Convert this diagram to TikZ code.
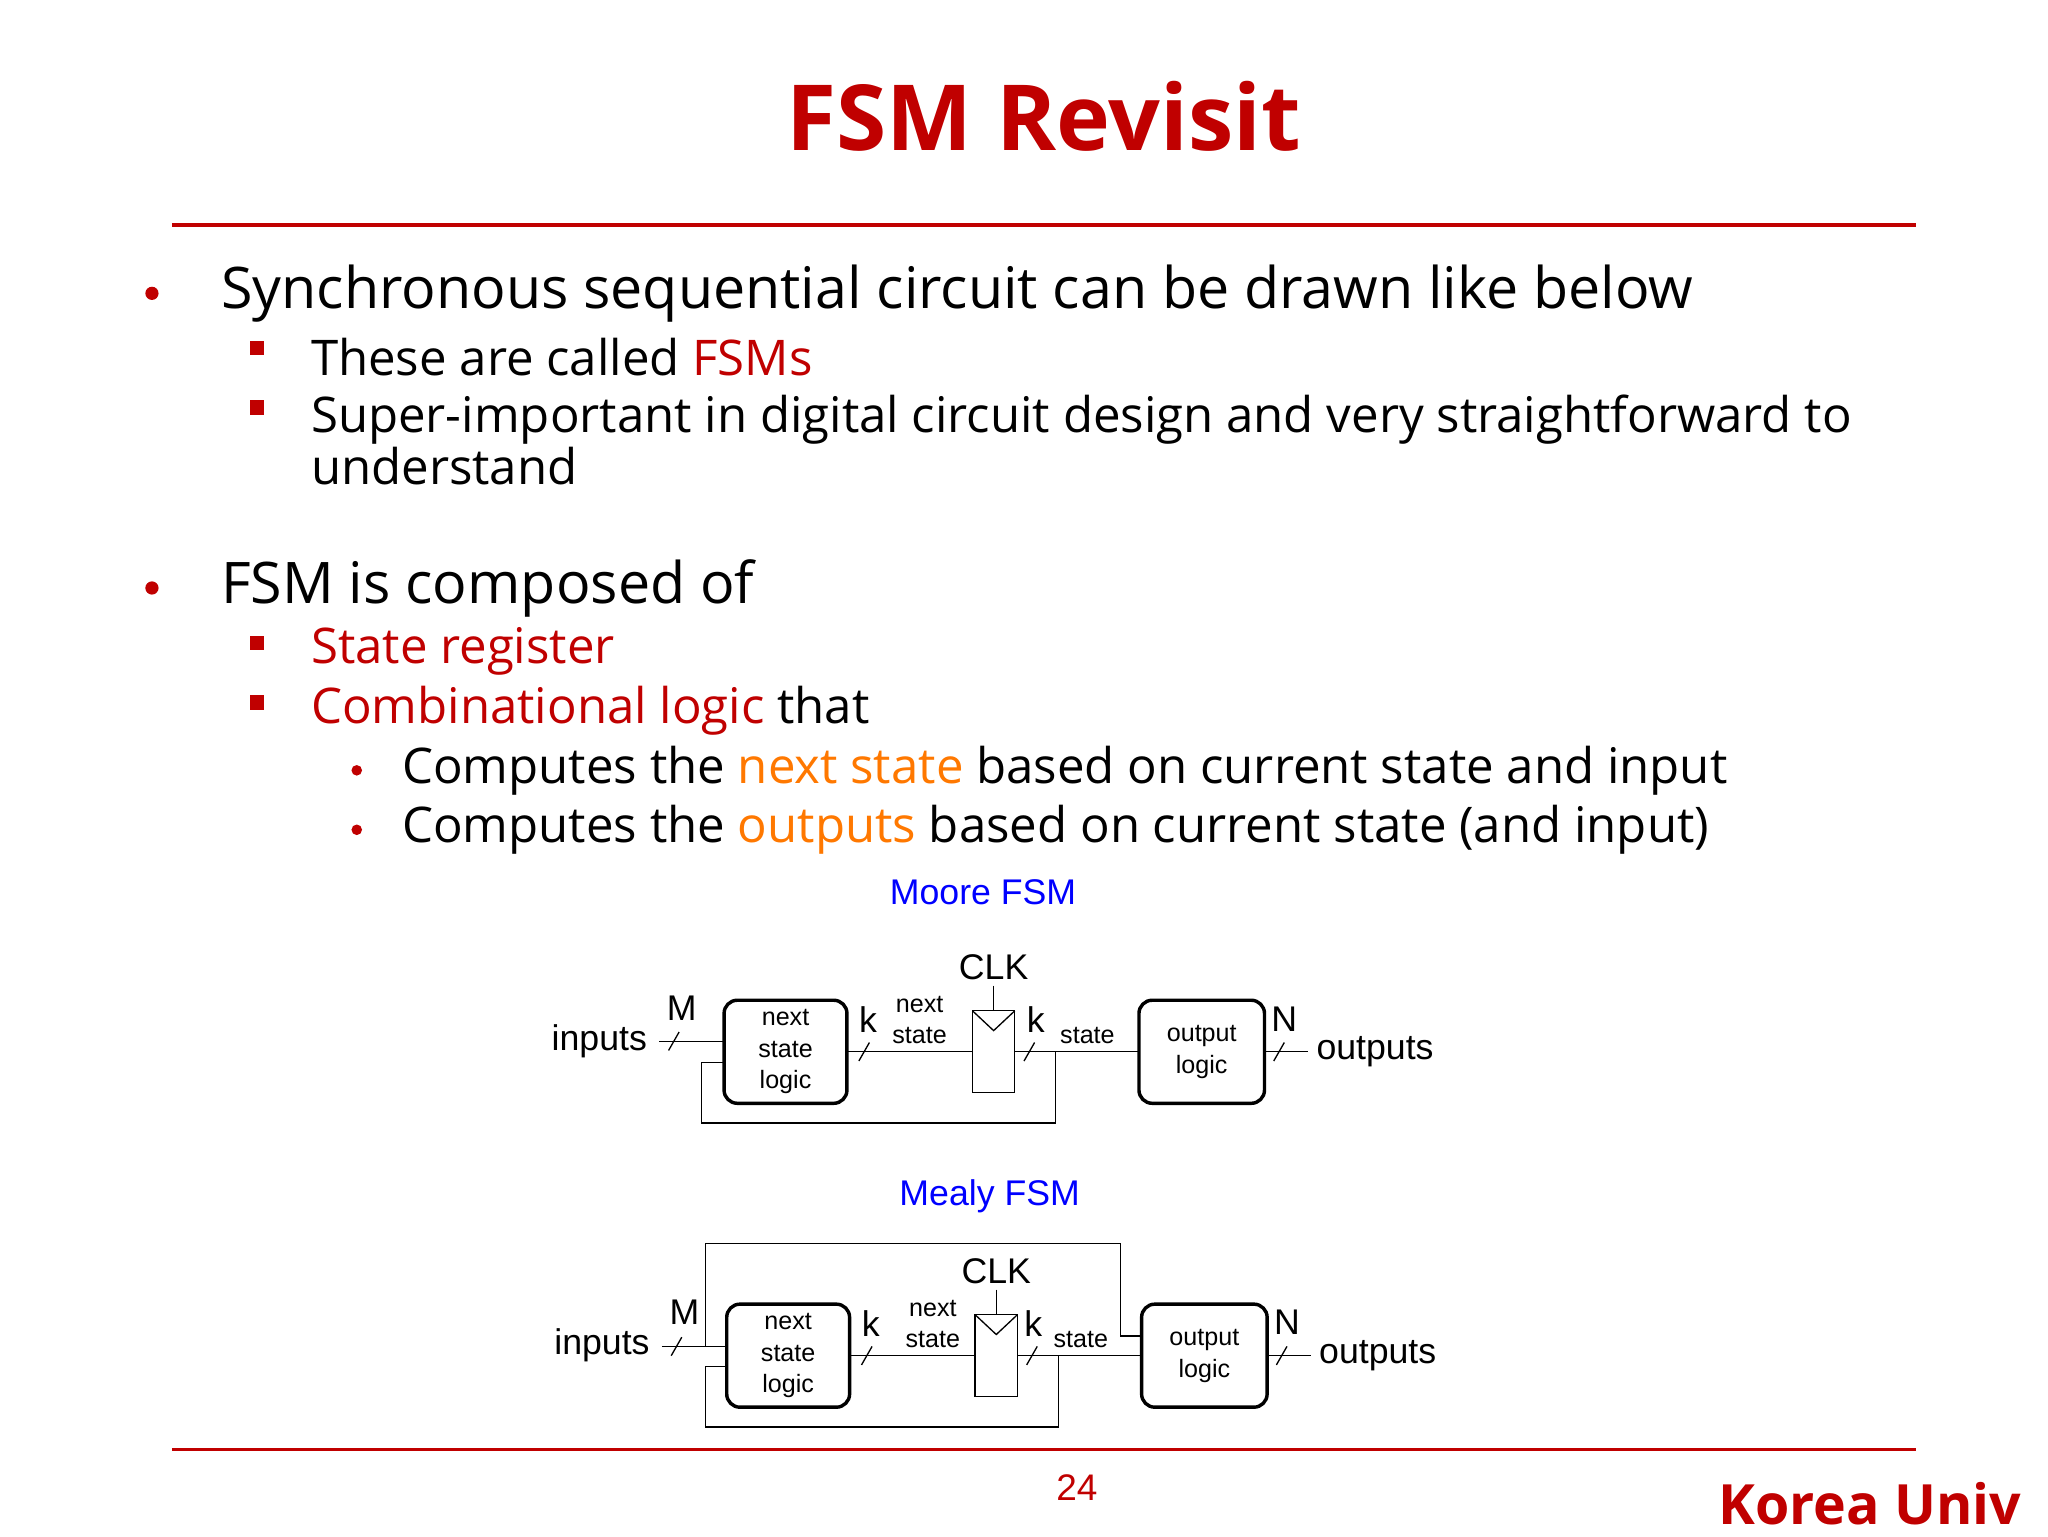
\documentclass[tikz,border=0pt]{standalone}
\usepackage{fontspec}
\setmainfont{Open Sans}
\newfontfamily\arial{Liberation Sans}
\definecolor{kred}{RGB}{192,0,0}
\definecolor{korange}{RGB}{255,120,0}
\definecolor{kblue}{RGB}{0,0,255}
\begin{document}
\begin{tikzpicture}[x=0.5pt,y=-0.5pt,
  lvA/.style={anchor=west,font=\fontsize{21.7}{24}\selectfont,inner sep=0},
  lvB/.style={anchor=west,font=\fontsize{18.6}{17}\selectfont,inner sep=0},
  blk/.style={draw,line width=1.3pt,rounded corners=5pt},
  wire/.style={line width=0.5pt},
  lab/.style={font=\arial\fontsize{9.5}{11}\selectfont,inner sep=0,align=center},
  big/.style={font=\arial\fontsize{13.5}{15}\selectfont,inner sep=0}]
\useasboundingbox (0,0) rectangle (1550,1162.5);
\node[font=\bfseries\fontsize{34.5}{40}\selectfont,text=kred] (title) at (790,88) {FSM Revisit};
\draw[kred,line width=1.5pt] (130,170) -- (1450,170);
\draw[kred,line width=1.5pt] (130,1097) -- (1450,1097);
\node[font=\arial\fontsize{14}{16}\selectfont,text=kred] (pg) at (815,1126) {24};
\node[anchor=east,font=\bfseries\fontsize{21}{24}\selectfont,text=kred] (ku) at (1537,1138) {Korea Univ};
% bullets
\foreach \y in {222,445}{\fill[kred] (115,\y) circle (5);}
\foreach \y in {258,303,481,526}{\fill[kred] (189,\y) rectangle (200,\y+11);}
\foreach \y in {583,628}{\fill[kred] (270,\y) circle (4);}
\node[lvA] (t1) at (167,222) {Synchronous sequential circuit can be drawn like below};
\node[lvB] (t2) at (235,270) {These are called \textcolor{kred}{FSMs}};
\node[lvB,align=left] (t3) at (235,333) {Super-important in digital circuit design and very straightforward to\\understand};
\node[lvA] (t4) at (167,445) {FSM is composed of};
\node[lvB,text=kred] (t5) at (235,493) {State register};
\node[lvB] (t6) at (235,538) {\textcolor{kred}{Combinational logic} that};
\node[lvB] (t7) at (304,583) {Computes the \textcolor{korange}{next state} based on current state and input};
\node[lvB] (t8) at (304,628) {Computes the \textcolor{korange}{outputs} based on current state (and input)};
% ===== Moore
\node[big,text=kblue] (moore) at (744,675) {Moore FSM};
\draw[blk] (548,757) rectangle (641,835);
\node[lab] (ns1) at (594.5,796) {next\\[1pt]state\\[1pt]logic};
\draw[wire] (736,765) rectangle (768,827);
\draw[wire] (736,765) -- (752,780) -- (768,765);
\draw[blk] (862,757) rectangle (957,835);
\node[lab] (ol1) at (909.5,796) {output\\[1pt]logic};
\node[big,anchor=east] (in1) at (490,788) {inputs};
\node[big,anchor=west] (out1) at (996,796) {outputs};
\node[big] (clk1) at (752,732) {CLK};
\draw[wire] (752,746) -- (752,765);
\draw[wire] (499,788) -- (548,788);
\draw[wire] (641,796) -- (736,796);
\draw[wire] (768,796) -- (862,796);
\draw[wire] (957,796) -- (990,796);
\draw[wire] (799,796) -- (799,850) -- (531,850) -- (531,804) -- (548,804);
\foreach \x/\y in {510/788,654/796,779/796,968/796}{\draw[wire] (\x-4,\y+7) -- (\x+4,\y-7);}
\node[big] (m1) at (516,763) {M};
\node[big] (k1) at (657,772) {k};
\node[big] (k2) at (784,772) {k};
\node[big] (n1) at (972,771) {N};
\node[lab] (nsl1) at (696,772) {next\\[1pt]state};
\node[lab] (st1) at (823,784) {state};
% ===== Mealy
\node[big,text=kblue] (mealy) at (749,905) {Mealy FSM};
\draw[blk] (550,987) rectangle (643,1065);
\node[lab] (ns2) at (596.5,1026) {next\\[1pt]state\\[1pt]logic};
\draw[wire] (738,995) rectangle (770,1057);
\draw[wire] (738,995) -- (754,1010) -- (770,995);
\draw[blk] (864,987) rectangle (959,1065);
\node[lab] (ol2) at (911.5,1026) {output\\[1pt]logic};
\node[big,anchor=east] (in2) at (492,1018) {inputs};
\node[big,anchor=west] (out2) at (998,1026) {outputs};
\node[big] (clk2) at (754,962) {CLK};
\draw[wire] (754,976) -- (754,995);
\draw[wire] (501,1019) -- (550,1019);
\draw[wire] (534,1019) -- (534,941) -- (848,941) -- (848,1011) -- (864,1011);
\draw[wire] (643,1026) -- (738,1026);
\draw[wire] (770,1026) -- (864,1026);
\draw[wire] (959,1026) -- (992,1026);
\draw[wire] (801,1026) -- (801,1080) -- (534,1080) -- (534,1034) -- (550,1034);
\foreach \x/\y in {512/1019,656/1026,781/1026,970/1026}{\draw[wire] (\x-4,\y+7) -- (\x+4,\y-7);}
\node[big] (m2) at (518,993) {M};
\node[big] (k3) at (659,1002) {k};
\node[big] (k4) at (782,1002) {k};
\node[big] (n2) at (974,1001) {N};
\node[lab] (nsl2) at (706,1002) {next\\[1pt]state};
\node[lab] (st2) at (818,1014) {state};
\end{tikzpicture}
\end{document}
